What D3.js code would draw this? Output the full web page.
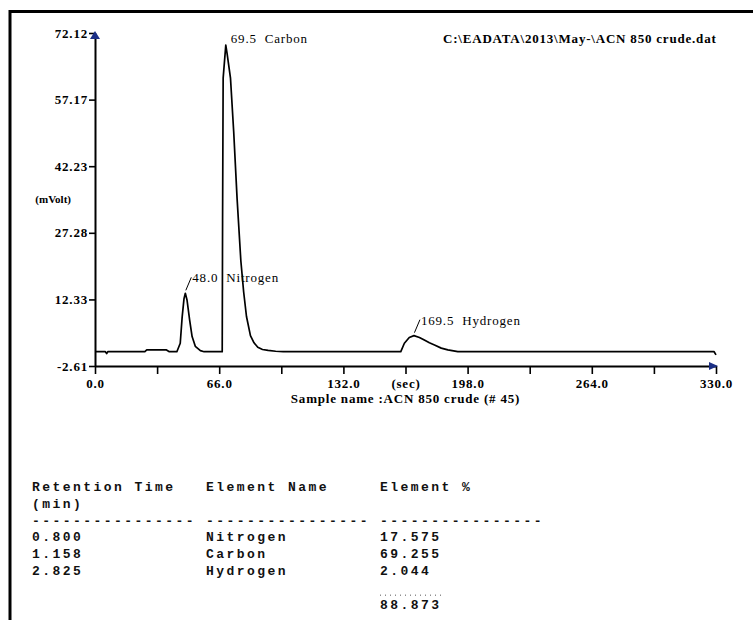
<!DOCTYPE html>
<html>
<head>
<meta charset="utf-8">
<script src="https://cdn.jsdelivr.net/npm/d3@7"></script>
<style>
  body { margin: 0; background: #fff; }
  svg { display: block; }
  .serif { font-family: "Liberation Serif", "Times New Roman", serif; fill: #000; letter-spacing: 0.8px; }
  .mono { font-family: "Liberation Mono", "Courier New", monospace; font-weight: bold; font-size: 13px; letter-spacing: 2.45px; white-space: pre; fill: #111; }
</style>
</head>
<body>
<script>
// chromatogram trace (time in sec, signal in mVolt)
var curveTime   = [0, 5.5, 6.2, 6.8, 26.5, 27.5, 38.0, 39.5, 43.5, 45.3, 46.3, 47.3, 48.0, 48.9, 50.3, 51.6, 53.3, 56.0, 58.0,
                   67.6, 67.8, 68.1, 69.5, 70.2, 72.0, 73.7, 75.5, 77.5, 79.0, 80.5, 82.6, 84.5, 86.5, 89.0, 92.0, 96.0, 100.0,
                   162.5, 164.4, 167.0, 169.5, 172.4, 175.0, 177.7, 180.4, 184.0, 187.5, 192.8, 329.0, 330.0];
var curveSignal = [0.6, 0.6, 0.2, 0.6, 0.6, 1.0, 1.0, 0.6, 0.6, 2.5, 8.3, 12.5, 13.7, 12.2, 7.7, 4.0, 1.8, 0.85, 0.6,
                   0.6, 30, 62, 69.4, 67.5, 62, 50, 35, 21, 14, 8.5, 4.2, 2.6, 1.6, 1.1, 0.9, 0.7, 0.6,
                   0.6, 2.5, 3.8, 4.2, 3.8, 3.2, 2.6, 2.1, 1.4, 1.0, 0.6, 0.6, -0.1];

var peakTimes = [48.0, 69.5, 169.5];
var peakNames = ["Nitrogen", "Carbon", "Hydrogen"];

var yTickValues = [-2.61, 12.33, 27.28, 42.23, 57.17, 72.12];
var yTickLabels = ["-2.61", "12.33", "27.28", "42.23", "57.17", "72.12"];
var xTickValues = [0, 33, 66, 99, 132, 165, 198, 231, 264, 297, 330];
var xTickLabels = ["0.0", "", "66.0", "", "132.0", "(sec)", "198.0", "", "264.0", "", "330.0"];

var fileTitle = "C:\\EADATA\\2013\\May-\\ACN 850 crude.dat";
var sampleName = "Sample name :ACN 850 crude (# 45)";

// report table
var retTimes = ["0.800", "1.158", "2.825"];
var elemNames = ["Nitrogen", "Carbon", "Hydrogen"];
var elemPct = ["17.575", "69.255", "2.044"];
var elemTotal = "88.873";

var W = 753, H = 620;

var svg = d3.select(document.body).append("svg")
    .attr("width", W)
    .attr("height", H);

// page frame (only top + left edges show)
svg.append("rect")
    .attr("x", 10).attr("y", 11.5)
    .attr("width", 800).attr("height", 700)
    .attr("fill", "none")
    .attr("stroke", "#000")
    .attr("stroke-width", 3);

var x = d3.scaleLinear().domain([0, 330]).range([95, 716]);
var y = d3.scaleLinear().domain([-2.61, 72.12]).range([366, 33]);

var g = svg.append("g");

// y axis
var yAxis = g.append("g")
    .attr("transform", "translate(" + x(0) + ",0)")
    .call(d3.axisLeft(y).tickValues(yTickValues)
        .tickFormat(function (d, i) { return yTickLabels[i]; })
        .tickSize(6).tickSizeOuter(0).tickPadding(1));

// x axis
var xAxis = g.append("g")
    .attr("transform", "translate(0," + y(-2.61) + ")")
    .call(d3.axisBottom(x).tickValues(xTickValues)
        .tickFormat(function (d, i) { return xTickLabels[i]; })
        .tickSize(8).tickSizeOuter(0).tickPadding(5));

[yAxis, xAxis].forEach(function (a) {
    a.select(".domain").attr("stroke-width", 2);
    a.selectAll(".tick line").attr("stroke-width", 1.6);
    a.selectAll("text")
        .attr("class", "serif")
        .style("font-size", "13px")
        .style("font-weight", "bold");
});

// arrow heads at axis ends
var arrowColor = "#1b2f86";
g.append("path")
    .attr("d", "M" + x(0) + "," + (y(72.12) - 2) + " l-5,8 l10,0 z")
    .attr("fill", arrowColor);
g.append("path")
    .attr("d", "M" + (x(330) + 2) + "," + y(-2.61) + " l-9,-4 l0,8 z")
    .attr("fill", arrowColor);

// axis captions
g.append("text")
    .attr("class", "serif")
    .attr("x", 71)
    .attr("y", y((72.12 + -2.61) / 2) + 3)
    .attr("text-anchor", "end")
    .style("font-size", "11px")
    .style("letter-spacing", "0px")
    .style("font-weight", "bold")
    .text("(mVolt)");

g.append("text")
    .attr("class", "serif")
    .attr("x", x(165))
    .attr("y", 403)
    .attr("text-anchor", "middle")
    .style("font-size", "13px")
    .style("font-weight", "bold")
    .text(sampleName);

g.append("text")
    .attr("class", "serif")
    .attr("x", 443)
    .attr("y", 43)
    .style("font-size", "13px")
    .style("font-weight", "bold")
    .text(fileTitle);

// signal trace
var trace = curveTime.map(function (t, i) { return [t, curveSignal[i]]; });
g.append("path")
    .datum(trace)
    .attr("fill", "none")
    .attr("stroke", "#000")
    .attr("stroke-width", 1.7)
    .attr("stroke-linejoin", "round")
    .attr("d", d3.line()
        .x(function (d) { return x(d[0]); })
        .y(function (d) { return y(d[1]); }));

// peak labels
peakTimes.forEach(function (t, i) {
    var idx = curveTime.indexOf(t);
    var px = x(t), py = y(curveSignal[idx]);
    var ty = py - 11, tx = px + 7;
    if (ty < 40) {
        ty = py - 2;
        tx = px + 5;
    } else {
        g.append("line")
            .attr("x1", px + 0.5).attr("y1", py - 3)
            .attr("x2", px + 6).attr("y2", py - 16)
            .attr("stroke", "#000")
            .attr("stroke-width", 1);
    }
    g.append("text")
        .attr("class", "serif")
        .attr("x", tx)
        .attr("y", ty)
        .style("font-size", "13px")
        .style("white-space", "pre")
        .text(t.toFixed(1) + "  " + peakNames[i]);
});

// results table
var colX = [32, 206, 380];
var lineH = 16.8;
var tableTop = 491;
var table = svg.append("g");

function cell(col, row, str) {
    table.append("text")
        .attr("class", "mono")
        .attr("x", colX[col])
        .attr("y", tableTop + row * lineH)
        .text(str);
}

cell(0, 0, "Retention Time");
cell(1, 0, "Element Name");
cell(2, 0, "Element %");
cell(0, 1, "(min)");
var dashes = "----------------";
cell(0, 2, dashes);
cell(1, 2, dashes);
cell(2, 2, dashes);
retTimes.forEach(function (r, i) {
    cell(0, 3 + i, r);
    cell(1, 3 + i, elemNames[i]);
    cell(2, 3 + i, elemPct[i]);
});
table.append("line")
    .attr("x1", colX[2]).attr("x2", colX[2] + 62)
    .attr("y1", tableTop + 6.2 * lineH).attr("y2", tableTop + 6.2 * lineH)
    .attr("stroke", "#555")
    .attr("stroke-width", 1)
    .attr("stroke-dasharray", "1,4");
cell(2, 7, elemTotal);
</script>
</body>
</html>
